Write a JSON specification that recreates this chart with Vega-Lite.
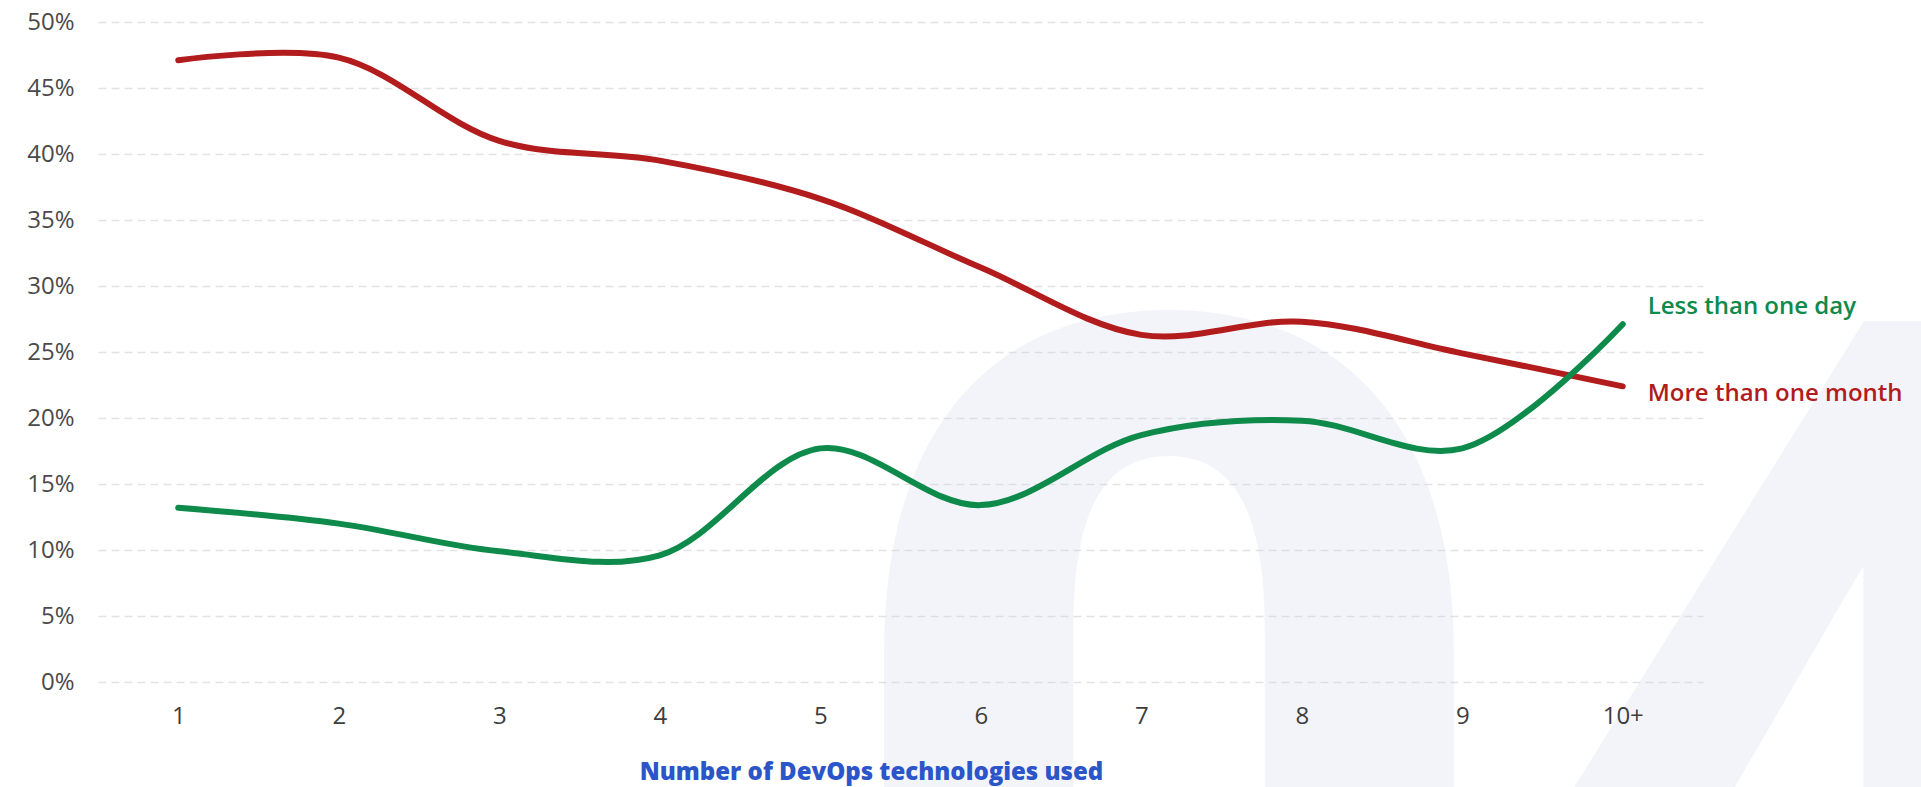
{
  "$schema": "https://vega.github.io/schema/vega-lite/v6.json",
  "width": 1605,
  "height": 660,
  "autosize": {"type": "none"},
  "padding": {"left": 98, "top": 22, "right": 218, "bottom": 105},
  "background": "white",
  "config": {"view": {"stroke": null}, "font": "Open Sans"},
  "datasets": {
    "series": [
      {"tech": "1", "series": "More than one month", "value": 47.1},
      {"tech": "2", "series": "More than one month", "value": 47.3},
      {"tech": "3", "series": "More than one month", "value": 41.0},
      {"tech": "4", "series": "More than one month", "value": 39.5},
      {"tech": "5", "series": "More than one month", "value": 36.6},
      {"tech": "6", "series": "More than one month", "value": 31.4},
      {"tech": "7", "series": "More than one month", "value": 26.3},
      {"tech": "8", "series": "More than one month", "value": 27.3},
      {"tech": "9", "series": "More than one month", "value": 24.9},
      {"tech": "10+", "series": "More than one month", "value": 22.4},
      {"tech": "1", "series": "Less than one day", "value": 13.2},
      {"tech": "2", "series": "Less than one day", "value": 12.0},
      {"tech": "3", "series": "Less than one day", "value": 9.9},
      {"tech": "4", "series": "Less than one day", "value": 9.6},
      {"tech": "5", "series": "Less than one day", "value": 17.7},
      {"tech": "6", "series": "Less than one day", "value": 13.4},
      {"tech": "7", "series": "Less than one day", "value": 18.7},
      {"tech": "8", "series": "Less than one day", "value": 19.8},
      {"tech": "9", "series": "Less than one day", "value": 17.7},
      {"tech": "10+", "series": "Less than one day", "value": 27.1}
    ],
    "watermark": [{"text": "04"}]
  },
  "layer": [
    {
      "data": {"name": "watermark"},
      "mark": {"type": "text", "font": "Roboto", "fontWeight": 900, "fontSize": 1150, "align": "center", "baseline": "alphabetic", "dx": 40, "color": "#c8cdeb", "opacity": 0.2},
      "encoding": {
        "x": {
          "datum": "9", "type": "ordinal",
          "scale": {"type": "point", "padding": 0.5, "domain": ["1", "2", "3", "4", "5", "6", "7", "8", "9", "10+"]},
          "axis": {
            "title": "Number of DevOps technologies used",
            "labelAngle": 0, "labelFontSize": 24, "labelColor": "#3d3d3d", "labelPadding": 22,
            "domain": false, "ticks": false, "grid": false,
            "titleFont": "Open Sans", "titleFontSize": 24, "titleFontWeight": 800, "titleColor": "#2b55c9", "titlePadding": 32,
            "titleX": 773, "titleAlign": "center", "zindex": 1
          }
        },
        "y": {
          "datum": -34.6, "type": "quantitative",
          "scale": {"domain": [0, 50], "nice": false, "zero": true},
          "axis": {
            "title": null, "values": [0, 5, 10, 15, 20, 25, 30, 35, 40, 45, 50],
            "labelExpr": "datum.value + '%'", "labelFontSize": 24, "labelColor": "#4a4a4a", "labelPadding": 24,
            "domain": false, "ticks": false, "grid": true, "gridDash": [8, 5], "gridColor": "#e3e3e3", "gridWidth": 1.5
          }
        },
        "text": {"field": "text"}
      }
    },
    {
      "data": {"name": "series"},
      "mark": {"type": "line", "interpolate": "catmull-rom", "strokeWidth": 6, "strokeCap": "round"},
      "encoding": {
        "x": {
          "field": "tech", "type": "ordinal",
          "scale": {"type": "point", "padding": 0.5, "domain": ["1", "2", "3", "4", "5", "6", "7", "8", "9", "10+"]},
          "axis": {
            "title": "Number of DevOps technologies used",
            "labelAngle": 0, "labelFontSize": 24, "labelColor": "#3d3d3d", "labelPadding": 22,
            "domain": false, "ticks": false, "grid": false,
            "titleFont": "Open Sans", "titleFontSize": 24, "titleFontWeight": 800, "titleColor": "#2b55c9", "titlePadding": 32,
            "titleX": 773, "titleAlign": "center", "zindex": 1
          }
        },
        "y": {
          "field": "value", "type": "quantitative",
          "scale": {"domain": [0, 50], "nice": false, "zero": true},
          "axis": {
            "title": null, "values": [0, 5, 10, 15, 20, 25, 30, 35, 40, 45, 50],
            "labelExpr": "datum.value + '%'", "labelFontSize": 24, "labelColor": "#4a4a4a", "labelPadding": 24,
            "domain": false, "ticks": false, "grid": true, "gridDash": [8, 5], "gridColor": "#e3e3e3", "gridWidth": 1.5
          }
        },
        "color": {
          "field": "series", "type": "nominal",
          "scale": {"domain": ["More than one month", "Less than one day"], "range": ["#b21c1c", "#0e8a4b"]},
          "legend": null
        }
      }
    },
    {
      "data": {"name": "series"},
      "transform": [{"filter": "datum.tech == '10+' && datum.series == 'Less than one day'"}],
      "mark": {"type": "text", "align": "left", "baseline": "alphabetic", "dx": 25, "dy": -10, "fontSize": 24, "fontWeight": 600, "color": "#0e8a4b"},
      "encoding": {
        "x": {"field": "tech", "type": "ordinal"},
        "y": {"field": "value", "type": "quantitative"},
        "text": {"field": "series"}
      }
    },
    {
      "data": {"name": "series"},
      "transform": [{"filter": "datum.tech == '10+' && datum.series == 'More than one month'"}],
      "mark": {"type": "text", "align": "left", "baseline": "alphabetic", "dx": 25, "dy": 15, "fontSize": 24, "fontWeight": 600, "color": "#b21c1c"},
      "encoding": {
        "x": {"field": "tech", "type": "ordinal"},
        "y": {"field": "value", "type": "quantitative"},
        "text": {"field": "series"}
      }
    }
  ]
}
